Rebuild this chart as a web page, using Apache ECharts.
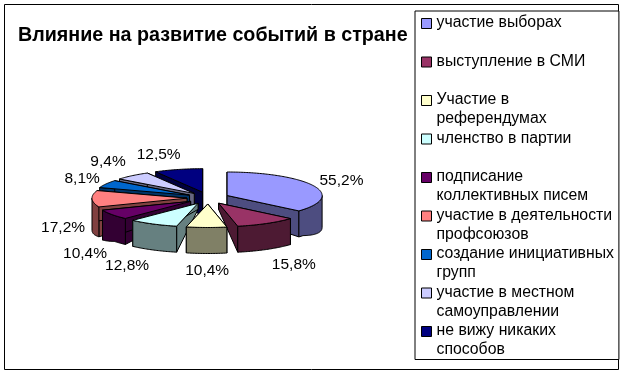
<!DOCTYPE html>
<html><head><meta charset="utf-8">
<style>html,body{margin:0;padding:0;background:#fff}#c{width:623px;height:374px}</style>
<script src="https://cdn.jsdelivr.net/npm/echarts@6/dist/echarts.min.js"></script>
</head><body><div id="c"></div>
<script>
const titleText = 'Влияние на развитие событий в стране';
const categories = ['участие выборах\n ','выступление в СМИ\n ','Участие в\nреферендумах','членство в партии\n ','подписание\nколлективных писем','участие в деятельности\nпрофсоюзов','создание инициативных\nгрупп','участие в местном\nсамоуправлении','не вижу никаких\nспособов'];
const values = [55.2,15.8,10.4,12.8,10.4,17.2,8.1,9.4,12.5];
const valueLabels = ['55,2%','15,8%','10,4%','12,8%','10,4%','17,2%','8,1%','9,4%','12,5%'];
const topColors = ['#9999FF','#993366','#FFFFCC','#CCFFFF','#660066','#FF8080','#0066CC','#CCCCFF','#000080'];
const wallColors = ['#4D4D80','#4D1A33','#808066','#668080','#330033','#804040','#003366','#666680','#000040'];
const paintRank = [4,6,8,7,5,3,2,1,0];
// layout
const CX=208, CY=198, RX=95, RY=23.5, EX=21, EY=6;
const FONT='15.5px "Liberation Sans", Arial, sans-serif';
const labelOffsets=[[-3,2],[10,2],[1,-2],[-10,2],[1,13],[5,28],[6,3],[-2,-1],[-11,1]];
const total=values.reduce((a,b)=>a+b,0);
const rad=d=>d*Math.PI/180;
function rimH(t){const s=Math.abs(Math.sin(t));return 26+6*Math.max(0,(s-0.8)/0.2);}
function sliceRender(i){
  return function(params,api){
    let before=0; for(let k=0;k<i;k++) before+=values[k];
    const v=api.value(0);
    const a=before/total*360, b=(before+v)/total*360, m=(a+b)/2;
    const ax=CX+EX*Math.sin(rad(m)), ay=CY-EY*Math.cos(rad(m));
    const apexH=14+9*Math.cos(rad(m));
    const pt=(d,h)=>{const t=rad(d);return [ax+RX*Math.sin(t),ay-RY*Math.cos(t)+(h?rimH(t):0)];};
    const style=(fill)=>({fill:fill,stroke:'#000',lineWidth:1,lineJoin:'round'});
    const poly=(pts,fill)=>({type:'polygon',shape:{points:pts},style:style(fill)});
    const arc=(from,to,h)=>{const out=[];const n=Math.max(2,Math.ceil(to-from));for(let j=0;j<=n;j++)out.push(pt(from+(to-from)*j/n,h));return out;};
    const wall=wallColors[i];
    const apexB=[ax,ay+apexH];
    const children=[
      poly([[ax,ay],pt(a,false),pt(a,true),apexB],wall),
      poly([[ax,ay],pt(b,false),pt(b,true),apexB],wall)
    ];
    const va=Math.max(a,90), vb=Math.min(b,270);
    if(vb>va) children.push(poly(arc(va,vb,false).concat(arc(va,vb,true).reverse()),wall));
    children.push(poly([[ax,ay]].concat(arc(a,b,false)),topColors[i]));
    const t=rad(m), c=Math.cos(t);
    const lx=CX+150*Math.sin(t)+labelOffsets[i][0];
    const ly=CY-(c>0?46:75)*c+labelOffsets[i][1];
    children.push({type:'text',style:{x:lx,y:ly,text:valueLabels[i],fill:'#000',font:FONT,align:'center',verticalAlign:'middle'},z2:50});
    return {type:'group',children:children};
  };
}
const series=categories.map((name,i)=>({
  type:'custom',name:name,coordinateSystem:'none',z:2+paintRank[i],
  itemStyle:{color:topColors[i]},silent:true,
  data:[[values[i]]],renderItem:sliceRender(i),animation:false
}));
const chart=echarts.init(document.getElementById('c'),null,{renderer:'canvas'});
chart.setOption({
  animation:false,backgroundColor:'#fff',
  title:{text:titleText,left:18,top:26,padding:0,textStyle:{fontFamily:'"Liberation Sans", Arial, sans-serif',fontWeight:'bold',fontSize:19.7,color:'#000'}},
  graphic:[{type:'rect',shape:{x:4.5,y:4.5,width:614,height:365},style:{fill:'none',stroke:'#000',lineWidth:1},z:0}],
  legend:{orient:'vertical',left:415,top:11,padding:[2,5,0,6],itemGap:0,itemWidth:10,itemHeight:37.5,
    icon:'path://M0 0M0 37.5M0 5H10V15H0Z',borderColor:'#000',borderWidth:1,backgroundColor:'#fff',borderRadius:0,
    itemStyle:{borderColor:'#000',borderWidth:1},selectedMode:false,
    textStyle:{fontFamily:'"Liberation Sans", Arial, sans-serif',fontSize:15.8,lineHeight:19,color:'#000'},
    data:categories},
  series:series
});
</script></body></html>
